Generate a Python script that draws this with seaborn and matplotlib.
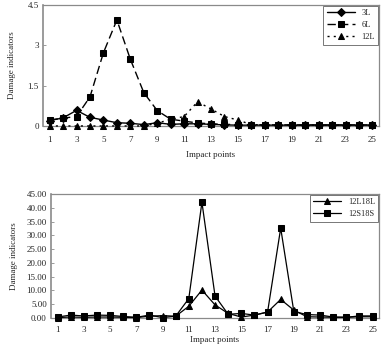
import pandas as pd
import matplotlib.pyplot as plt
import seaborn as sns
import numpy as np

# ==========================================
# Data
# ==========================================
points = list(range(1, 26))

s_3L = [0.20, 0.30, 0.58, 0.32, 0.22, 0.12, 0.10, 0.05, 0.12, 0.06, 0.08, 0.08, 0.06,
        0.04, 0.03, 0.03, 0.03, 0.03, 0.03, 0.03, 0.03, 0.03, 0.03, 0.03, 0.03]
s_6L = [0.22, 0.29, 0.35, 1.08, 2.72, 3.94, 2.48, 1.24, 0.57, 0.25, 0.18, 0.11, 0.08,
        0.06, 0.05, 0.05, 0.04, 0.04, 0.04, 0.04, 0.04, 0.04, 0.04, 0.04, 0.04]
s_12L = [0.0, 0.0, 0.0, 0.0, 0.0, 0.0, 0.0, 0.0, 0.10, 0.25, 0.35, 0.90, 0.63,
         0.35, 0.22, 0.05, 0.04, 0.03, 0.03, 0.03, 0.03, 0.03, 0.03, 0.03, 0.03]

s_12L18L = [0.1, 0.3, 0.2, 0.3, 0.3, 0.2, 0.1, 0.6, 0.8, 0.6, 4.2, 10.1, 4.7,
            1.6, 0.3, 1.0, 2.1, 6.7, 2.8, 0.4, 0.3, 0.2, 0.2, 0.4, 0.4]
s_12S18S = [0.3, 1.0, 0.7, 1.0, 0.9, 0.5, 0.2, 1.0, 0.1, 0.6, 7.0, 42.0, 7.9,
            1.3, 1.6, 1.0, 2.1, 32.6, 2.3, 1.2, 1.0, 0.3, 0.2, 0.7, 0.7]

top_df = pd.DataFrame({'Impact points': points * 3,
                       'value': s_3L + s_6L + s_12L,
                       'series': ['3L'] * 25 + ['6L'] * 25 + ['12L'] * 25})
bot_df = pd.DataFrame({'Impact points': points * 2,
                       'value': s_12L18L + s_12S18S,
                       'series': ['12L18L'] * 25 + ['12S18S'] * 25})

# ==========================================
# Style
# ==========================================
sns.set_theme(style="white")
plt.rcParams['font.family'] = ['Liberation Serif', 'DejaVu Serif']
plt.rcParams['font.size'] = 6.5

fig = plt.figure(figsize=(3.83, 3.47), dpi=100)
ax1 = fig.add_axes([0.112, 0.637, 0.878, 0.349])
ax2 = fig.add_axes([0.133, 0.084, 0.857, 0.357])

black = {'3L': 'black', '6L': 'black', '12L': 'black', '12L18L': 'black', '12S18S': 'black'}
spine_col = '#8a8a8a'

# ---- top panel ----
sns.lineplot(data=top_df, x='Impact points', y='value', hue='series', style='series',
             hue_order=['3L', '6L', '12L'], style_order=['3L', '6L', '12L'],
             palette=black,
             dashes={'3L': '', '6L': (6, 3), '12L': (1.5, 3)},
             markers={'3L': 'D', '6L': 's', '12L': '^'},
             markersize=4.5, linewidth=1.0, markeredgecolor='black', ax=ax1,
             clip_on=False, zorder=3)
ax1.set_xlim(0.5, 25.5)
ax1.set_ylim(0, 4.5)
ax1.set_yticks([0, 1.5, 3, 4.5])
ax1.set_yticklabels(['0', '1.5', '3', '4.5'])

# ---- bottom panel ----
sns.lineplot(data=bot_df, x='Impact points', y='value', hue='series', style='series',
             hue_order=['12L18L', '12S18S'], style_order=['12L18L', '12S18S'],
             palette=black, dashes=False,
             markers={'12L18L': '^', '12S18S': 's'},
             markersize=5, linewidth=0.9, markeredgecolor='black', ax=ax2,
             clip_on=False, zorder=3)
ax2.set_xlim(0.5, 25.5)
ax2.set_ylim(0, 45)
ax2.set_yticks(np.arange(0, 46, 5))
ax2.yaxis.set_major_formatter(plt.FuncFormatter(lambda v, _: '{:.2f}'.format(v)))

for ax in (ax1, ax2):
    ax.set_xticks(range(1, 26, 2))
    ax.set_ylabel('Damage indicators', fontsize=6.5)
    ax.tick_params(axis='y', direction='in', length=2, width=0.6, color=spine_col,
                   labelsize=6.5, pad=3, left=True)
    ax.tick_params(axis='x', length=0, labelsize=6.5, pad=7)
    for s in ax.spines.values():
        s.set_color(spine_col)
        s.set_linewidth(0.9)
    ax.spines['left'].set_linewidth(1.2)
    leg = ax.legend(loc='upper right', fontsize=6, frameon=True, fancybox=False,
                    edgecolor='#555555', borderpad=0.4, handlelength=3.4,
                    borderaxespad=0.1, labelspacing=0.5)
    leg.get_frame().set_linewidth(0.7)

ax1.set_xlabel('Impact points', fontsize=6.5, labelpad=5)
ax2.set_xlabel('Impact points', fontsize=6.5, labelpad=1)
ax2.tick_params(axis='x', pad=6)
ax1.yaxis.labelpad = 8
ax2.yaxis.labelpad = 6

plt.savefig('out.png', dpi=100)
